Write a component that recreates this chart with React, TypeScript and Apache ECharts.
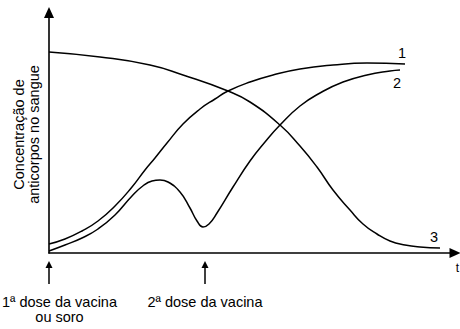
import React, { useEffect, useRef } from "react";
import * as echarts from "echarts";

// time (arbitrary units) vs antibody concentration (arbitrary units)
const curve1: [number, number][] = [
  [0, 9], [16, 14], [33, 22], [49, 32], [66, 47], [83, 66], [96, 83], [106, 95],
  [118, 110], [134, 129], [151, 144], [166, 154], [179, 162], [201, 171], [224, 178],
  [251, 184], [284, 188], [318, 190], [356, 189],
];
const curve2: [number, number][] = [
  [0, 2], [16, 8], [33, 15], [49, 24], [66, 38], [83, 57], [95, 68], [103, 72],
  [111, 73], [119, 71], [131, 61], [141, 45], [148, 32], [154, 26], [160, 29],
  [168, 40], [184, 66], [201, 92], [216, 111], [231, 128], [251, 147], [271, 160],
  [294, 171], [318, 178], [341, 182], [351, 183],
];
const curve3: [number, number][] = [
  [0, 201], [51, 196], [101, 188], [134, 178], [179, 162], [201, 151], [231, 128],
  [251, 107], [268, 86], [284, 63], [301, 43], [314, 29], [328, 19], [341, 12],
  [356, 8], [371, 6], [391, 5],
];
const curveNames = ["1", "2", "3"];
const doseTimes = [0, 156];
const doseLabels = ["1ª dose da vacina\nou soro", "2ª dose da vacina"];
const yAxisTitle = "Concentração de\nanticorpos no sangue";
const X_MAX = 406;
const Y_MAX = 240.5;

const FONT = '"Liberation Sans", Arial, Helvetica, sans-serif';

export default function App() {
  const ref = useRef<HTMLDivElement>(null);
  useEffect(() => {
    document.body.style.margin = "0";
    const chart = echarts.init(ref.current!, null, { renderer: "svg" });
    const labelOffsets: [number, number][] = [[-3, -11], [-3, 13], [-6, -11]];
    const curves = [curve1, curve2, curve3];
    const axisLine = {
      show: true,
      onZero: false,
      symbol: ["none", "triangle"],
      symbolSize: [10, 11],
      lineStyle: { color: "#000", width: 1.6 },
    };
    chart.setOption({
      animation: false,
      backgroundColor: "#fff",
      grid: { left: 49, right: 5, top: 12.5, bottom: 76 },
      xAxis: {
        type: "value", min: 0, max: X_MAX,
        axisLine, axisTick: { show: false }, axisLabel: { show: false }, splitLine: { show: false },
      },
      yAxis: {
        type: "value", min: 0, max: Y_MAX,
        axisLine, axisTick: { show: false }, axisLabel: { show: false }, splitLine: { show: false },
      },
      series: curves.map((d, i) => ({
        type: "line",
        name: curveNames[i],
        data: d,
        smooth: 0.5,
        showSymbol: false,
        clip: false,
        lineStyle: { color: "#000", width: 1.5 },
        silent: true,
        markPoint: {
          symbol: "circle",
          symbolSize: 0,
          silent: true,
          label: {
            show: true, position: "inside", color: "#000",
            fontSize: 14.5, fontFamily: FONT,
            formatter: curveNames[i], offset: labelOffsets[i],
          },
          data: [{ coord: d[d.length - 1] }],
        },
      })),
    });

    const graphic: any[] = [
      {
        type: "text",
        x: 26, y: 134.5, rotation: Math.PI / 2,
        style: {
          text: yAxisTitle, fill: "#000", font: `14.5px ${FONT}`,
          textAlign: "center", textVerticalAlign: "middle", lineHeight: 15,
        },
      },
      {
        type: "text", x: 459, y: 262,
        style: { text: "t", fill: "#000", font: `12px ${FONT}`, textAlign: "right", textVerticalAlign: "top" },
      },
    ];
    const textCenters = [59.5, null];
    doseTimes.forEach((t, i) => {
      const px = chart.convertToPixel({ gridIndex: 0 }, [t, 0]) as number[];
      const x = px[0];
      graphic.push({
        type: "line",
        shape: { x1: x, y1: 284, x2: x, y2: 266 },
        style: { stroke: "#000", lineWidth: 1.5 },
      });
      graphic.push({
        type: "polygon",
        shape: { points: [[x, 261], [x - 3.5, 268], [x + 3.5, 268]] },
        style: { fill: "#000" },
      });
      graphic.push({
        type: "text",
        x: textCenters[i] ?? x, y: 294,
        style: {
          text: doseLabels[i], fill: "#000", font: `14.5px ${FONT}`,
          textAlign: "center", textVerticalAlign: "top", lineHeight: 15,
        },
      });
    });
    chart.setOption({ graphic });
    return () => chart.dispose();
  }, []);
  return <div ref={ref} style={{ width: 460, height: 329 }} />;
}
